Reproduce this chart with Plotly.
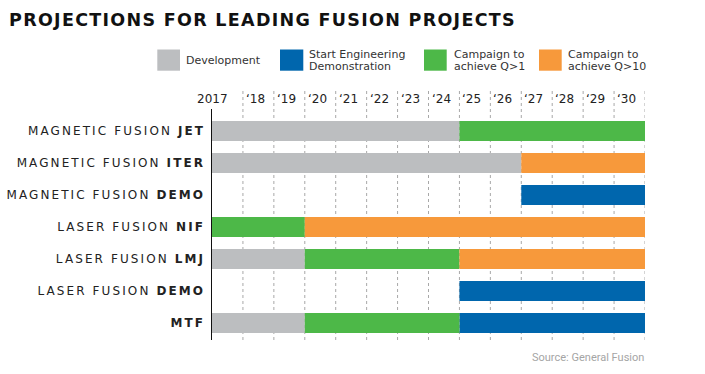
import plotly.graph_objects as go

# ---------------- data ----------------
project_names = ["MAGNETIC FUSION", "MAGNETIC FUSION", "MAGNETIC FUSION",
                 "LASER FUSION", "LASER FUSION", "LASER FUSION", ""]
project_codes = ["JET", "ITER", "DEMO", "NIF", "LMJ", "DEMO", "MTF"]
project_ids = ["mf_jet", "mf_iter", "mf_demo", "lf_nif", "lf_lmj", "lf_demo", "mtf"]

# phase start / end years (end = start of following year, None = no phase)
dev_start = [2017, 2017, None, None, 2017, None, 2017]
dev_end = [2025, 2027, None, None, 2020, None, 2020]
eng_start = [None, None, 2027, None, None, 2025, 2025]
eng_end = [None, None, 2031, None, None, 2031, 2031]
q1_start = [2025, None, None, 2017, 2020, None, 2020]
q1_end = [2031, None, None, 2020, 2025, None, 2025]
q10_start = [None, 2027, None, 2020, 2025, None, None]
q10_end = [None, 2031, None, 2031, 2031, None, None]

phase_names = ["Development", "Start Engineering<br>Demonstration",
               "Campaign to<br>achieve Q>1", "Campaign to<br>achieve Q>10"]
phase_colors = ["#BCBEC0", "#0066AD", "#4DB848", "#F7993B"]

year_ticks = list(range(2017, 2031))
year_labels = ["2017"] + ["\u2018%02d" % (y % 100) for y in range(2018, 2031)]
grid_years = list(range(2018, 2032))

title_text = "PROJECTIONS FOR LEADING FUSION PROJECTS"
source_text = "Source: General Fusion"

# ---------------- layout geometry (pixels) ----------------
W, H = 705, 374
L, R, T, B = 212, 645, 109, 340
PW, PH = R - L, B - T


def px(x):
    return (x - L) / PW


def py(y):
    return (B - y) / PH


fig = go.Figure()

starts = [dev_start, eng_start, q1_start, q10_start]
ends = [dev_end, eng_end, q1_end, q10_end]
for name, color, s, e in zip(phase_names, phase_colors, starts, ends):
    length = [(b - a) if a is not None else None for a, b in zip(s, e)]
    fig.add_trace(go.Bar(
        y=project_ids, x=length, base=s, orientation="h",
        marker=dict(color=color, line=dict(width=0)),
        width=0.625, name=name.replace("<br>", " "), showlegend=False,
        hoverinfo="skip",
    ))

ticktext = []
for n, c in zip(project_names, project_codes):
    ticktext.append((n + " " if n else "") + "<b>" + c + "</b>")

# dotted grid lines (extend above plot into the year label row)
for gy in grid_years:
    fig.add_shape(type="line", xref="x", yref="paper", x0=gy, x1=gy,
                  y0=0, y1=py(89), line=dict(color="#A8A8A8", width=1, dash="dot"),
                  layer="below")

# year labels
for yv, lab in zip(year_ticks, year_labels):
    if yv == 2017:
        fig.add_annotation(x=yv, y=py(99), xref="x", yref="paper", text=lab,
                           showarrow=False, xanchor="center", yanchor="middle",
                           font=dict(family="DejaVu Sans", size=12, color="#222"))
    else:
        fig.add_annotation(x=yv, y=py(99), xref="x", yref="paper", text=lab,
                           showarrow=False, xanchor="left", yanchor="middle", xshift=1,
                           font=dict(family="DejaVu Sans", size=12, color="#222"))

# legend (squares + labels)
leg_sq = [(157.3, 180), (280, 303.3), (424, 446.7), (539, 561.7)]
leg_tx = [184, 307, 451.5, 566]
for (x0, x1), tx, name, color in zip(leg_sq, leg_tx, phase_names, phase_colors):
    fig.add_shape(type="rect", xref="paper", yref="paper", x0=px(x0), x1=px(x1),
                  y0=py(70.7), y1=py(49.5), fillcolor=color, line=dict(width=0))
    lines = name.split("<br>")
    if len(lines) == 1:
        ys = [61]
    else:
        ys = [54.5, 66.5]
    for ln, yy in zip(lines, ys):
        fig.add_annotation(x=px(tx), y=py(yy), xref="paper", yref="paper", text=ln,
                           showarrow=False, xanchor="left", yanchor="middle",
                           font=dict(family="DejaVu Sans", size=11, color="#333"))

# source
fig.add_annotation(x=px(646), y=py(357.5), xref="paper", yref="paper", text=source_text,
                   showarrow=False, xanchor="right", yanchor="middle",
                   font=dict(family="Liberation Sans Narrow, Roboto", size=11, color="#A5A5A5"))

fig.update_layout(
    width=W, height=H,
    margin=dict(l=L, r=W - R, t=T, b=H - B, pad=0),
    paper_bgcolor="white", plot_bgcolor="rgba(0,0,0,0)",
    barmode="overlay",
    showlegend=False,
    title=dict(text="<b>" + title_text + "</b>", xref="container", yref="container",
               x=9 / W, xanchor="left", y=1 - 20 / H, yanchor="middle",
               font=dict(family="DejaVu Sans", size=17.5, color="#111")),
    xaxis=dict(range=[2017, 2031], showgrid=False, zeroline=False, showline=False,
               showticklabels=False, ticks="", fixedrange=True),
    yaxis=dict(type="category", categoryarray=project_ids, tickvals=project_ids,
               ticktext=ticktext, range=[6.53, -0.6875], showgrid=False, zeroline=False,
               showline=True, linecolor="#111", linewidth=1.5, ticks="",
               ticklabelstandoff=3,
               tickfont=dict(family="DejaVu Sans", size=12, color="#222"),
               fixedrange=True),
)

post = """
document.body.style.margin = '0';
document.body.style.padding = '0';
var gd = document.getElementById('{plot_id}');
function spacing() {
  gd.querySelectorAll('.ytick text').forEach(function(t){ t.style.letterSpacing = '2.1px'; });
  gd.querySelectorAll('.gtitle').forEach(function(t){ t.style.letterSpacing = '1.3px'; });
}
spacing();
gd.on && gd.on('plotly_afterplot', spacing);
"""

fig.write_html("out.html", config={"displayModeBar": False, "staticPlot": True},
               post_script=post)
